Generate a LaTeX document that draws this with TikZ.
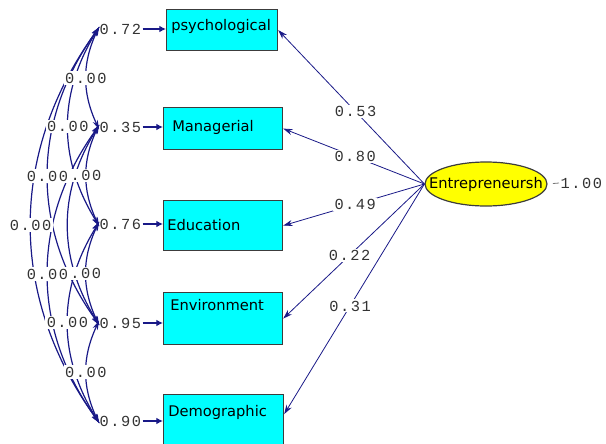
\documentclass[tikz,border=0pt]{standalone}
\usepackage{fontspec}
\setmainfont{DejaVu Sans}
\newfontfamily\numfont[LetterSpace=10]{Liberation Mono}
\usetikzlibrary{arrows.meta,shapes.geometric}

\definecolor{pathblue}{RGB}{25,25,135}
\definecolor{boxline}{RGB}{60,60,60}
\definecolor{boxfill}{RGB}{0,255,255}
\definecolor{latfill}{RGB}{255,255,0}

\tikzset{
 obs/.style={draw=boxline, fill=boxfill, line width=0.9pt, anchor=north west, inner sep=0pt},
 obstext/.style={anchor=west, inner sep=0pt, font=\fontsize{11}{12}\selectfont, text=black, text height=8pt, text depth=0pt},
 num/.style={font=\fontsize{11.5}{12}\numfont, text=black!80, inner sep=1pt},
 lbl/.style={num, fill=white},
 cov/.style={draw=pathblue, line width=0.9pt, shorten <=-2pt, shorten >=-2pt, {Stealth[length=7pt,width=4pt]}-{Stealth[length=7pt,width=4pt]}},
 load/.style={draw=pathblue, line width=0.6pt, -{Stealth[length=7pt,width=4.5pt]}},
 err/.style={draw=pathblue, line width=0.9pt, -{Latex[length=5pt,width=5pt]}}
}

\begin{document}
\begin{tikzpicture}[x=0.75pt,y=-0.75pt]
\useasboundingbox (0,0) rectangle (606,443);
\clip (0,0) rectangle (606,443);

% observed variables
\node[obs, minimum width=83.25pt, minimum height=30.75pt] (psy) at (166,9) {};
\node[obs, minimum width=89.25pt, minimum height=31.5pt] (man) at (163,107) {};
\node[obs, minimum width=89.25pt, minimum height=37.5pt] (edu) at (163,200) {};
\node[obs, minimum width=89.25pt, minimum height=39pt] (env) at (163,292) {};
\node[obs, minimum width=90pt, minimum height=39.75pt] (dem) at (163,394) {};
\node[obstext] (psyt) at ([shift={(5,16)}]psy.north west) {psychological};
\node[obstext] (mant) at ([shift={(9,19)}]man.north west) {Managerial};
\node[obstext] (edut) at ([shift={(4,25)}]edu.north west) {Education};
\node[obstext] (envt) at ([shift={(7,13)}]env.north west) {Environment};
\node[obstext] (demt) at ([shift={(5,17)}]dem.north west) {Demographic};
\coordinate (demin) at ([yshift=5.25pt]dem.east);

% latent variable
\node[draw=boxline, fill=latfill, line width=0.9pt, ellipse, inner sep=0pt,
      minimum width=91.5pt, minimum height=33pt, font=\fontsize{11}{12}\selectfont]
      (ent) at (486,184) {\makebox[0pt]{Entrepreneursh}};
\node[num, anchor=west] (one) at (559,183) {1.00};
\draw[boxline!70, line width=0.6pt, shorten <=4pt] (ent.east) -- (one.west);

% error variances
\foreach \n/\v/\y/\b in {1/0.72/29/psy, 2/0.35/127/man, 3/0.76/224/edu, 4/0.95/323/env, 5/0.90/421/dem}
{
 \node[num, anchor=west] (e\n) at (98,\y) {\v};
 \draw[err] (e\n) -- (e\n -| \b.west);
}

% loadings
\foreach \b/\v/\p in {psy.east/0.53/0.47, man.east/0.80/0.49, edu.east/0.49/0.49, env.east/0.22/0.53, demin/0.31/0.53}
 \draw[load] (ent.west) -- node[lbl, pos=\p] {\v} (\b);

% correlated errors
\foreach \i/\j/\a in {1/2/25, 1/3/32, 1/4/36, 1/5/36, 2/3/25, 2/4/32, 2/5/36, 3/4/25, 3/5/32, 4/5/25}
 \draw[cov] (e\i.west) to[bend right=\a] (e\j.west);
\foreach \i/\j/\a/\t in {1/2/25/0.00, 1/3/32/0.00, 1/4/36/0.00, 1/5/36/0.00, 2/3/25/.00, 2/5/36/0.00, 3/4/25/.00, 3/5/32/0.00, 4/5/25/0.00}
 \path (e\i.west) to[bend right=\a] node[lbl] {\t} (e\j.west);

\end{tikzpicture}
\end{document}
